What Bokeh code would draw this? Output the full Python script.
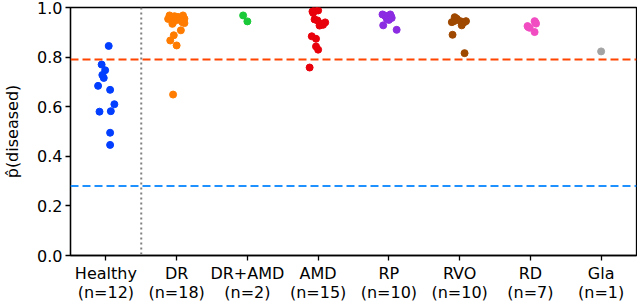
from bokeh.plotting import figure
from bokeh.models import Range1d, FixedTicker, PrintfTickFormatter, Span, ColumnDataSource
from bokeh.embed import file_html
from bokeh.resources import INLINE

# ---- data ----
categories = ["Healthy", "DR", "DR+AMD", "AMD", "RP", "RVO", "RD", "Gla"]
colors = ["#023eff", "#ff7c00", "#1ac938", "#e8000b", "#8b2be2", "#9f4800", "#f14cc1", "#a3a3a3"]

healthy_vals = [0.845, 0.770, 0.747, 0.728, 0.716, 0.684, 0.668, 0.610, 0.580, 0.582, 0.495, 0.446]
healthy_jit = [0.04, -0.06, -0.01, -0.05, -0.03, -0.11, 0.06, 0.12, -0.09, 0.07, 0.06, 0.06]

dr_vals = [0.968, 0.965, 0.962, 0.968, 0.955, 0.957, 0.950, 0.948, 0.954, 0.941, 0.940, 0.937,
           0.934, 0.908, 0.888, 0.867, 0.847, 0.649]
dr_jit = [-0.10, -0.03, 0.02, 0.09, 0.11, -0.07, 0.01, 0.07, -0.12, 0.08, -0.05, 0.11,
          -0.06, 0.06, -0.04, -0.09, 0.00, -0.05]

dramd_vals = [0.968, 0.944]
dramd_jit = [-0.06, 0.00]

amd_vals = [0.984, 0.988, 0.990, 0.978, 0.952, 0.948, 0.940, 0.935, 0.927, 0.930, 0.884, 0.874,
            0.843, 0.830, 0.758]
amd_jit = [-0.08, 0.00, -0.04, -0.07, -0.05, -0.01, 0.10, 0.04, 0.02, 0.07, -0.09, -0.03,
           -0.03, 0.00, -0.12]

rp_vals = [0.972, 0.972, 0.968, 0.962, 0.965, 0.955, 0.950, 0.958, 0.928, 0.910]
rp_jit = [-0.09, 0.02, -0.06, -0.01, 0.03, -0.03, 0.00, 0.04, -0.08, 0.11]

rvo_vals = [0.961, 0.955, 0.941, 0.945, 0.945, 0.945, 0.940, 0.928, 0.890, 0.816]
rvo_jit = [-0.07, -0.04, -0.11, -0.08, 0.01, 0.09, 0.06, 0.03, -0.10, 0.07]

rd_vals = [0.941, 0.945, 0.921, 0.925, 0.901, 0.935, 0.918]
rd_jit = [0.07, 0.06, -0.03, -0.04, 0.06, 0.08, -0.01]

gla_vals = [0.823]
gla_jit = [0.00]

upper_threshold = 0.79
lower_threshold = 0.28
separator_x = 0.5

y_ticks = [0.0, 0.2, 0.4, 0.6, 0.8, 1.0]

groups_vals = [healthy_vals, dr_vals, dramd_vals, amd_vals, rp_vals, rvo_vals, rd_vals, gla_vals]
groups_jit = [healthy_jit, dr_jit, dramd_jit, amd_jit, rp_jit, rvo_jit, rd_jit, gla_jit]

FONT = "DejaVu Sans"

p = figure(frame_width=566, frame_height=248, output_backend="svg", toolbar_location=None,
           x_range=Range1d(-0.5, 7.5), y_range=Range1d(0, 1.0),
           min_border_left=63, min_border_right=1, min_border_top=7, min_border_bottom=0)

p.xgrid.visible = False
p.ygrid.visible = False
p.outline_line_color = "black"
p.outline_line_width = 1.3
p.outline_line_alpha = 1.0

# thresholds and separator
p.add_layout(Span(location=upper_threshold, dimension="width", line_color="#ff4500",
                  line_width=2, line_dash="8 4"))
p.add_layout(Span(location=lower_threshold, dimension="width", line_color="#1e90ff",
                  line_width=2, line_dash="8 4"))
p.add_layout(Span(location=separator_x, dimension="height", line_color="#808080",
                  line_width=2, line_dash="2 3"))

for i, (vals, jit) in enumerate(zip(groups_vals, groups_jit)):
    src = ColumnDataSource(dict(x=[i + j for j in jit], y=vals))
    p.scatter("x", "y", source=src, size=7, fill_color=colors[i], line_color=colors[i])

# axes
p.xaxis.ticker = FixedTicker(ticks=list(range(len(categories))))
p.xaxis.major_label_overrides = {
    i: f"{c}\n(n={len(v)})" for i, (c, v) in enumerate(zip(categories, groups_vals))
}
p.yaxis.ticker = FixedTicker(ticks=y_ticks)
p.yaxis.formatter = PrintfTickFormatter(format="%.1f")
p.yaxis.axis_label = "p\u0302(diseased)"

for ax in (p.xaxis[0], p.yaxis[0]):
    ax.axis_line_color = "black"
    ax.axis_line_width = 1.3
    ax.major_tick_line_color = "black"
    ax.major_tick_line_width = 1.3
    ax.major_tick_in = 0
    ax.major_tick_out = 5
    ax.minor_tick_line_color = None
    ax.major_label_text_font = FONT
    ax.major_label_text_font_size = "16px"
    ax.major_label_text_color = "black"
    ax.major_label_standoff = 3
    ax.axis_label_text_font = FONT
    ax.axis_label_text_font_size = "16px"
    ax.axis_label_text_font_style = "normal"
    ax.axis_label_text_color = "black"

p.xaxis.major_label_text_line_height = 1.0
p.yaxis.axis_label_standoff = 12

open("out.html", "w").write(file_html(p, INLINE))
